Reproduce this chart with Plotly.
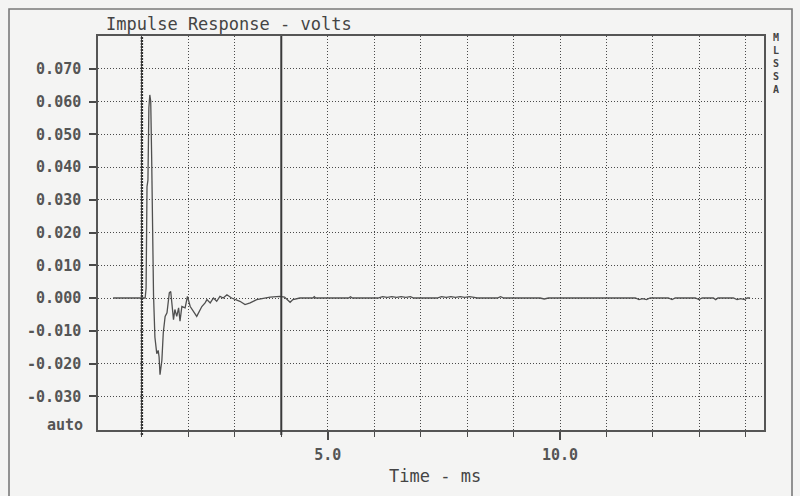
import plotly.graph_objects as go

# ---- data ----
time_ms = [0.38, 1.07, 1.09, 1.11, 1.13, 1.15, 1.17, 1.19, 1.21, 1.25, 1.28, 1.32, 1.35, 1.37,
           1.39, 1.43, 1.46, 1.50, 1.54, 1.59, 1.62, 1.64, 1.68, 1.71, 1.75, 1.79, 1.82, 1.86,
           1.93, 1.98, 2.00, 2.04, 2.18, 2.22, 2.29, 2.36, 2.40, 2.47, 2.54, 2.61, 2.68, 2.75,
           2.83, 2.93, 3.01, 3.11, 3.22, 3.33, 3.47, 3.62, 3.76, 3.97, 4.07, 4.19, 4.25, 4.40,
           4.68, 4.71, 4.74, 5.45, 5.49, 5.53, 6.08, 6.18, 6.28, 6.38, 6.48, 6.58, 6.68, 6.78,
           6.85, 7.35, 7.45, 7.55, 7.65, 7.75, 7.85, 7.95, 8.05, 8.15, 8.22, 8.65, 8.72, 8.79,
           9.57, 9.66, 9.75, 11.62, 11.70, 11.78, 11.86, 11.94, 12.33, 12.41, 12.48, 12.91,
           12.99, 13.06, 13.30, 13.35, 13.40, 13.73, 13.81, 13.89, 13.97, 14.03, 14.09]
volts = [0.0, 0.0, 0.003, 0.034, 0.036, 0.058, 0.062, 0.060, 0.043, 0.001, -0.012, -0.017,
         -0.016, -0.018, -0.0234, -0.019, -0.0106, -0.0056, -0.0045, 0.0016, 0.002, -0.0005,
         -0.0066, -0.0035, -0.0056, -0.003, -0.0071, -0.0026, -0.003, 0.0005, -0.0005, -0.0026,
         -0.0056, -0.0045, -0.0026, -0.0015, -0.0005, -0.0015, 0.0, -0.001, 0.0005, 0.0,
         0.001, 0.0, -0.0005, -0.001, -0.002, -0.0015, -0.0005, 0.0, 0.0003, 0.0005, 0.0003,
         -0.0013, -0.0005, 0.0,
         0.0, 0.0004, 0.0, 0.0, 0.0004, 0.0, 0.0, 0.0004, 0.0002, 0.0004, 0.0002, 0.0004,
         0.0002, 0.0004, 0.0, 0.0, 0.0004, 0.0002, 0.0004, 0.0002, 0.0004, 0.0002, 0.0004,
         0.0002, 0.0, 0.0, 0.0004, 0.0, 0.0, -0.0003, 0.0, 0.0, -0.0005, -0.0002, -0.0005,
         0.0, 0.0, -0.0005, 0.0, 0.0, -0.0005, 0.0, 0.0, -0.0005, 0.0, 0.0, -0.0005, -0.0002,
         -0.0005, 0.0, 0.0]

y_tick_vals = [-0.03, -0.02, -0.01, 0.0, 0.01, 0.02, 0.03, 0.04, 0.05, 0.06, 0.07]
y_tick_text = ["-0.030", "-0.020", "-0.010", "0.000", "0.010", "0.020", "0.030",
               "0.040", "0.050", "0.060", "0.070"]
x_tick_vals = [5, 10]
x_tick_text = ["5.0", "10.0"]
cursor_times = [1.0, 4.0]

chart_title = "Impulse Response - volts"
x_title = "Time - ms"
y_bottom_label = "auto"
side_label = "MLSSA"

# ---- layout constants (pixels) ----
W, H = 800, 496
L, R, T, B = 98, 36, 36, 66
PW, PH = W - L - R, H - T - B


def px_x(x):
    return (x - L) / PW


def px_y(y):
    return (H - B - y) / PH


INK = "#4a4a4a"
GRID = "#4a4a4a"
BG = "#f4f4f3"
MONO = "DejaVu Sans Mono"

fig = go.Figure()
fig.add_trace(go.Scatter(x=time_ms, y=volts, mode="lines",
                         line=dict(color="#505050", width=1.3), showlegend=False,
                         hoverinfo="skip"))

fig.update_layout(
    width=W, height=H, autosize=False,
    margin=dict(l=L, r=R, t=T, b=B, pad=0),
    paper_bgcolor=BG, plot_bgcolor=BG,
    showlegend=False,
)

fig.update_xaxes(
    range=[0.055, 14.39], tickvals=x_tick_vals, ticktext=x_tick_text,
    ticks="outside", ticklen=8, tickwidth=1.5, tickcolor=INK,
    showgrid=True, gridcolor=GRID, gridwidth=1.1, griddash="1px,2px",
    minor=dict(dtick=1, tick0=0, ticks="outside", ticklen=5, tickwidth=1.2,
               tickcolor=INK, showgrid=True, gridcolor=GRID, gridwidth=1.1,
               griddash="1px,2px"),
    showline=True, linecolor="#555", linewidth=1.5, mirror=True, zeroline=False,
    tickfont=dict(family=MONO, size=15, color="#555", weight="bold"),
    ticklabelstandoff=2,
)
fig.update_yaxes(
    range=[-0.0403, 0.0800], tickvals=y_tick_vals, ticktext=y_tick_text,
    ticks="outside", ticklen=7, tickwidth=1.5, tickcolor=INK,
    showgrid=True, gridcolor=GRID, gridwidth=1.1, griddash="1px,2px",
    showline=True, linecolor="#555", linewidth=1.5, mirror=True, zeroline=False,
    tickfont=dict(family=MONO, size=15, color="#555", weight="bold"),
    ticklabelstandoff=5,
)

# cursors
fig.add_shape(type="line", xref="x", yref="paper", x0=cursor_times[0], x1=cursor_times[0],
              y0=-0.013, y1=1, line=dict(color="#333", width=2.4, dash="2px,1px"))
fig.add_shape(type="line", xref="x", yref="paper", x0=cursor_times[1], x1=cursor_times[1],
              y0=-0.013, y1=1, line=dict(color="#3a3a3a", width=2))

# outer frame
fig.add_shape(type="rect", xref="paper", yref="paper",
              x0=px_x(9), x1=px_x(792), y0=px_y(520), y1=px_y(9),
              line=dict(color="#7a7a7a", width=1.6), layer="below")

# texts
fig.add_annotation(text=chart_title, xref="paper", yref="paper", x=px_x(104), y=px_y(24),
                   xanchor="left", yanchor="middle", showarrow=False,
                   font=dict(family=MONO, size=17, color="#444"))
fig.add_annotation(text=x_title, xref="paper", yref="paper", x=px_x(435), y=px_y(476),
                   xanchor="center", yanchor="middle", showarrow=False,
                   font=dict(family=MONO, size=17, color="#444"))
fig.add_annotation(text=y_bottom_label, xref="paper", yref="paper", x=px_x(85), y=px_y(425),
                   xanchor="right", yanchor="middle", showarrow=False,
                   font=dict(family=MONO, size=15, color="#555", weight="bold"))
fig.add_annotation(text="<br>".join(side_label), xref="paper", yref="paper",
                   x=px_x(776), y=px_y(63.5), xanchor="center", yanchor="middle",
                   showarrow=False,
                   font=dict(family=MONO, size=10, color="#444", weight="bold"))

fig.write_html("out.html", config={"displayModeBar": False},
               post_script="document.body.style.margin='0';")
